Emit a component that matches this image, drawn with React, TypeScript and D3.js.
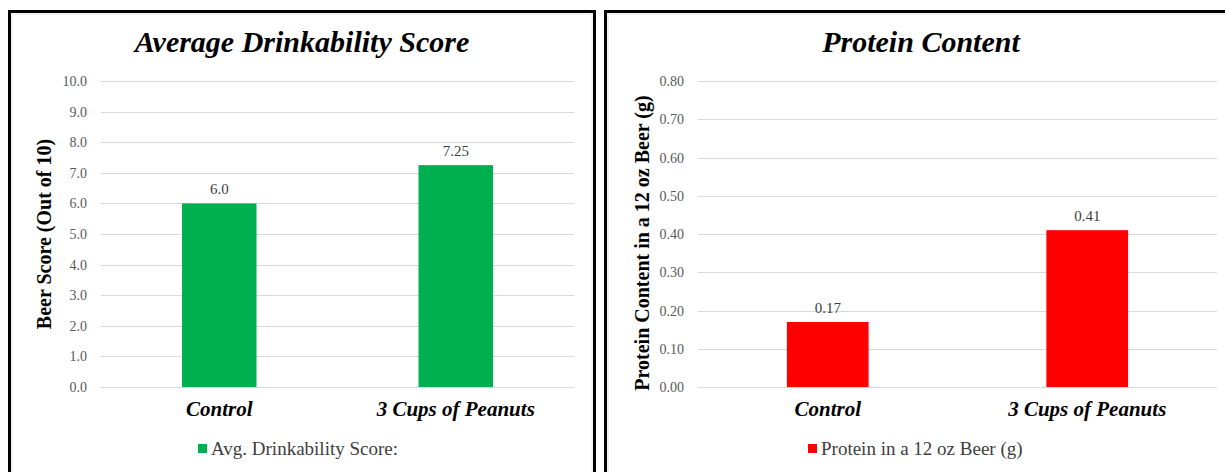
import { useEffect, useRef } from "react";
import * as d3 from "d3";

// Data
const categories = ["Control", "3 Cups of Peanuts"];
const drinkScores = [6.0, 7.25];
const drinkLabels = ["6.0", "7.25"];
const drinkTicks = [0, 1, 2, 3, 4, 5, 6, 7, 8, 9, 10];
const proteinValues = [0.17, 0.41];
const proteinLabels = ["0.17", "0.41"];
const proteinTicks = [0, 0.1, 0.2, 0.3, 0.4, 0.5, 0.6, 0.7, 0.8];

const FONT = "'Liberation Serif', 'Times New Roman', serif";

interface PanelSpec {
  left: number;
  right: number;
  titleX: number;
  title: string;
  yTitle: string;
  legend: string;
  legendX: number;
  color: string;
  values: number[];
  labels: string[];
  ticks: number[];
  yMax: number;
  tickFormat: (v: number) => string;
  plotLeft: number;
  plotRight: number;
  yTitleX: number;
  yTitleY: number;
}

const panels: PanelSpec[] = [
  {
    left: 9.5,
    right: 594.5,
    titleX: 302,
    title: "Average Drinkability Score",
    yTitle: "Beer Score (Out of 10)",
    legend: "Avg. Drinkability Score:",
    legendX: 198,
    color: "#00B050",
    values: drinkScores,
    labels: drinkLabels,
    ticks: drinkTicks,
    yMax: 10,
    tickFormat: d3.format(".1f"),
    plotLeft: 101,
    plotRight: 574,
    yTitleX: 51,
    yTitleY: 234,
  },
  {
    left: 605.5,
    right: 1240,
    titleX: 921,
    title: "Protein Content",
    yTitle: "Protein Content in a 12 oz Beer (g)",
    legend: "Protein in a 12 oz Beer (g)",
    legendX: 808,
    color: "#FF0000",
    values: proteinValues,
    labels: proteinLabels,
    ticks: proteinTicks,
    yMax: 0.8,
    tickFormat: d3.format(".2f"),
    plotLeft: 698,
    plotRight: 1217,
    yTitleX: 649,
    yTitleY: 243,
  },
];

export default function App() {
  const svgRef = useRef<SVGSVGElement>(null);

  useEffect(() => {
    if (!svgRef.current) return;
    const svg = d3.select(svgRef.current);
    svg.selectAll("*").remove();

    const top = 81;
    const bottom = 387;

    panels.forEach((p) => {
      const g = svg.append("g");

      // frame
      g.append("rect")
        .attr("x", p.left)
        .attr("y", 11.5)
        .attr("width", p.right - p.left)
        .attr("height", 480)
        .attr("fill", "#ffffff")
        .attr("stroke", "#000000")
        .attr("stroke-width", 3);
      g.append("rect")
        .attr("x", p.left + 2.5)
        .attr("y", 14)
        .attr("width", p.right - p.left - 5)
        .attr("height", 480)
        .attr("fill", "none")
        .attr("stroke", "#e4e4e4")
        .attr("stroke-width", 1);

      g.append("text")
        .attr("x", p.titleX)
        .attr("y", 52)
        .attr("text-anchor", "middle")
        .attr("font-family", FONT)
        .attr("font-size", 30)
        .attr("font-weight", "bold")
        .attr("font-style", "italic")
        .attr("fill", "#000")
        .text(p.title);

      const x = d3
        .scaleBand<string>()
        .domain(categories)
        .range([p.plotLeft, p.plotRight])
        .paddingInner(0.685)
        .paddingOuter(0.3425);

      const y = d3.scaleLinear().domain([0, p.yMax]).range([bottom, top]);

      // gridlines
      g.append("g")
        .selectAll("line")
        .data(p.ticks)
        .join("line")
        .attr("x1", p.plotLeft)
        .attr("x2", p.plotRight)
        .attr("y1", (d) => Math.round(y(d)) + 0.5)
        .attr("y2", (d) => Math.round(y(d)) + 0.5)
        .attr("stroke", "#d9d9d9")
        .attr("stroke-width", 1);

      // tick labels
      g.append("g")
        .selectAll("text")
        .data(p.ticks)
        .join("text")
        .attr("x", p.plotLeft - 14)
        .attr("y", (d) => y(d) + 5)
        .attr("text-anchor", "end")
        .attr("font-family", FONT)
        .attr("font-size", 14)
        .attr("fill", "#595959")
        .text((d) => p.tickFormat(d));

      // bars
      g.append("g")
        .selectAll("rect")
        .data(p.values)
        .join("rect")
        .attr("x", (_, i) => x(categories[i])!)
        .attr("width", x.bandwidth())
        .attr("y", (d) => y(d))
        .attr("height", (d) => bottom - y(d))
        .attr("fill", p.color);

      // data labels
      g.append("g")
        .selectAll("text")
        .data(p.values)
        .join("text")
        .attr("x", (_, i) => x(categories[i])! + x.bandwidth() / 2)
        .attr("y", (d) => y(d) - 9)
        .attr("text-anchor", "middle")
        .attr("font-family", FONT)
        .attr("font-size", 15)
        .attr("fill", "#404040")
        .text((_, i) => p.labels[i]);

      // category labels
      g.append("g")
        .selectAll("text")
        .data(categories)
        .join("text")
        .attr("x", (d) => x(d)! + x.bandwidth() / 2)
        .attr("y", 416)
        .attr("text-anchor", "middle")
        .attr("font-family", FONT)
        .attr("font-size", 21)
        .attr("font-weight", "bold")
        .attr("font-style", "italic")
        .attr("fill", "#000")
        .text((d) => d);

      // y axis title
      g.append("text")
        .attr("transform", `translate(${p.yTitleX},${p.yTitleY}) rotate(-90)`)
        .attr("text-anchor", "middle")
        .attr("font-family", FONT)
        .attr("font-size", 20)
        .attr("font-weight", "bold")
        .attr("fill", "#000")
        .text(p.yTitle);

      // legend
      const lg = g.append("g").attr("transform", `translate(${p.legendX},0)`);
      lg.append("rect")
        .attr("x", 0)
        .attr("y", 444)
        .attr("width", 9)
        .attr("height", 9)
        .attr("fill", p.color);
      lg.append("text")
        .attr("x", 13)
        .attr("y", 455)
        .attr("font-family", FONT)
        .attr("font-size", 19)
        .attr("fill", "#404040")
        .text(p.legend);
    });
  }, []);

  return (
    <svg
      ref={svgRef}
      width={1225}
      height={472}
      style={{ position: "absolute", left: 0, top: 0, background: "#fff" }}
    />
  );
}
